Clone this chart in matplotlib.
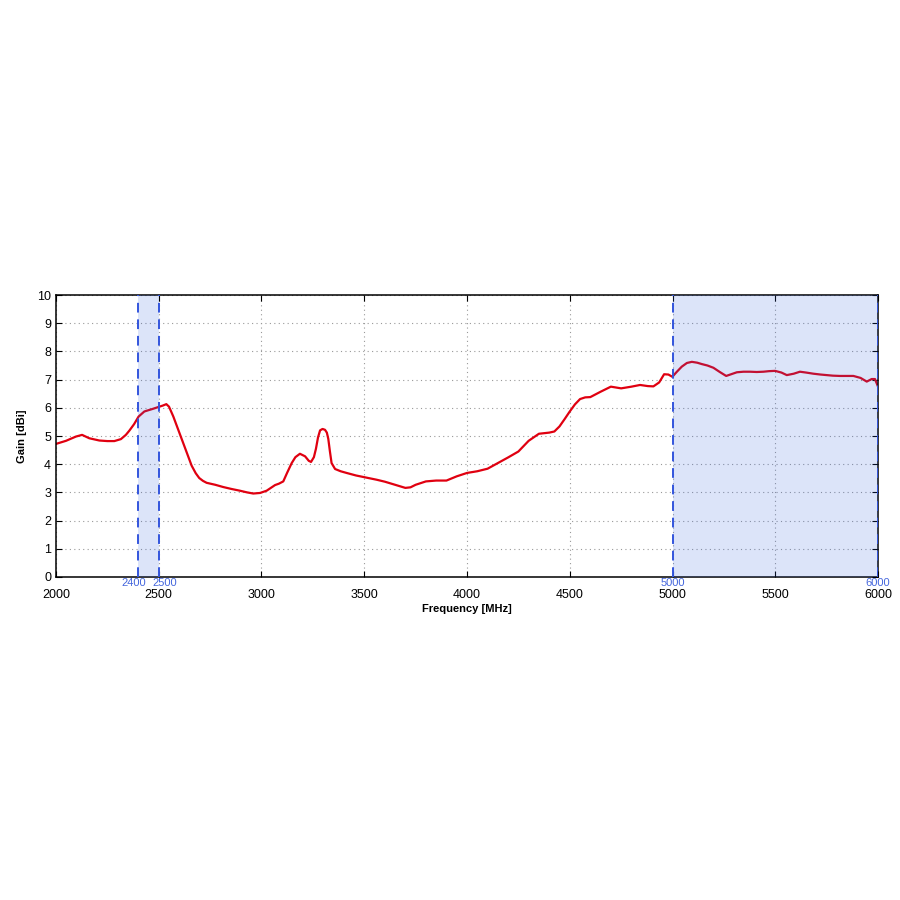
import numpy as np
import matplotlib.pyplot as plt

plt.rcParams["font.family"] = ["Liberation Sans", "DejaVu Sans"]

# gain curve
freq = [2000, 2049, 2097, 2127, 2162, 2211, 2250, 2284, 2316, 2340, 2357, 2380,
        2402, 2430, 2470, 2503, 2520, 2537, 2550, 2571, 2595, 2619, 2640, 2660,
        2680, 2697, 2715, 2733, 2775, 2814, 2855, 2895, 2930, 2960, 2993, 3025,
        3066, 3085, 3106, 3125, 3147, 3165, 3187, 3212, 3230, 3241, 3255, 3265,
        3275, 3285, 3297, 3309, 3318, 3325, 3333, 3341, 3358, 3385, 3414, 3460,
        3520, 3560, 3600, 3650, 3700, 3725, 3750, 3800, 3850, 3900, 3950, 4000,
        4050, 4100, 4150, 4200, 4250, 4300, 4350, 4400, 4425, 4450, 4475, 4500,
        4525, 4550, 4575, 4600, 4650, 4700, 4750, 4800, 4842, 4880, 4907, 4935,
        4959, 4980, 4999, 5020, 5045, 5070, 5094, 5120, 5143, 5170, 5199, 5230,
        5261, 5285, 5313, 5345, 5377, 5410, 5442, 5470, 5499, 5530, 5556, 5590,
        5620, 5650, 5685, 5720, 5750, 5780, 5815, 5850, 5880, 5915, 5945, 5969,
        5985, 6000]
gain = [4.72, 4.83, 4.98, 5.04, 4.92, 4.84, 4.82, 4.82, 4.89, 5.04, 5.19, 5.42,
        5.69, 5.87, 5.96, 6.04, 6.08, 6.13, 6.04, 5.69, 5.22, 4.75, 4.33, 3.95,
        3.68, 3.51, 3.41, 3.34, 3.27, 3.19, 3.12, 3.06, 3.00, 2.96, 2.98, 3.06,
        3.26, 3.31, 3.39, 3.70, 4.04, 4.25, 4.37, 4.28, 4.12, 4.08, 4.25, 4.55,
        4.95, 5.20, 5.25, 5.22, 5.12, 4.90, 4.45, 4.04, 3.83, 3.75, 3.69, 3.60,
        3.51, 3.45, 3.38, 3.27, 3.16, 3.18, 3.27, 3.39, 3.42, 3.42, 3.57, 3.69,
        3.75, 3.84, 4.04, 4.24, 4.45, 4.83, 5.08, 5.12, 5.16, 5.34, 5.60, 5.87,
        6.12, 6.31, 6.37, 6.38, 6.57, 6.75, 6.69, 6.75, 6.81, 6.77, 6.76, 6.90,
        7.19, 7.18, 7.10, 7.27, 7.46, 7.59, 7.63, 7.60, 7.55, 7.50, 7.42, 7.27,
        7.13, 7.19, 7.26, 7.28, 7.28, 7.27, 7.28, 7.30, 7.31, 7.25, 7.16, 7.21,
        7.28, 7.25, 7.21, 7.18, 7.16, 7.14, 7.13, 7.13, 7.13, 7.06, 6.93, 7.02,
        7.02, 6.75]

bands = [(2400, 2500), (5000, 6000)]
band_labels = ["2400", "2500", "5000", "6000"]
label_shift = [-3, 4, 0, 0]

fig = plt.figure(figsize=(9, 9), dpi=100)
ax = fig.add_axes([0.0622, 0.3589, 0.9134, 0.3133])

ax.plot(freq, gain, color="#e00010", lw=1.6, zorder=2,
        solid_joinstyle="round", solid_capstyle="round")

for lo, hi in bands:
    ax.axvspan(lo, hi, color="#3060e0", alpha=0.17, lw=0, zorder=3)
    for b in (lo, hi):
        ax.axvline(b, color="#3355dd", lw=1.4, ls=(0, (5, 3.5)), zorder=4)

for lab, dx in zip(band_labels, label_shift):
    ax.annotate(lab, (float(lab), 0), xycoords=ax.get_xaxis_transform(),
                xytext=(dx, -0.5), textcoords="offset points",
                ha="center", va="top", color="#4466dd", fontsize=8)

ax.set_xlim(2000, 6000)
ax.set_ylim(0, 10)
ax.set_xticks(np.arange(2000, 6001, 500))
ax.set_yticks(np.arange(0, 11, 1))
ax.tick_params(direction="in", top=True, right=True, length=4, width=0.8,
               labelsize=9)
ax.tick_params(axis="x", pad=8.5)
ax.grid(True, ls=(0, (1, 3)), color="#999999", lw=0.8)
for s in ax.spines.values():
    s.set_linewidth(1.1)

ax.set_xlabel("Frequency [MHz]", fontsize=8, fontweight="bold", labelpad=2)
ax.set_ylabel("Gain [dBi]", fontsize=8, fontweight="bold", labelpad=7)

fig.savefig("out.png", dpi=100)
